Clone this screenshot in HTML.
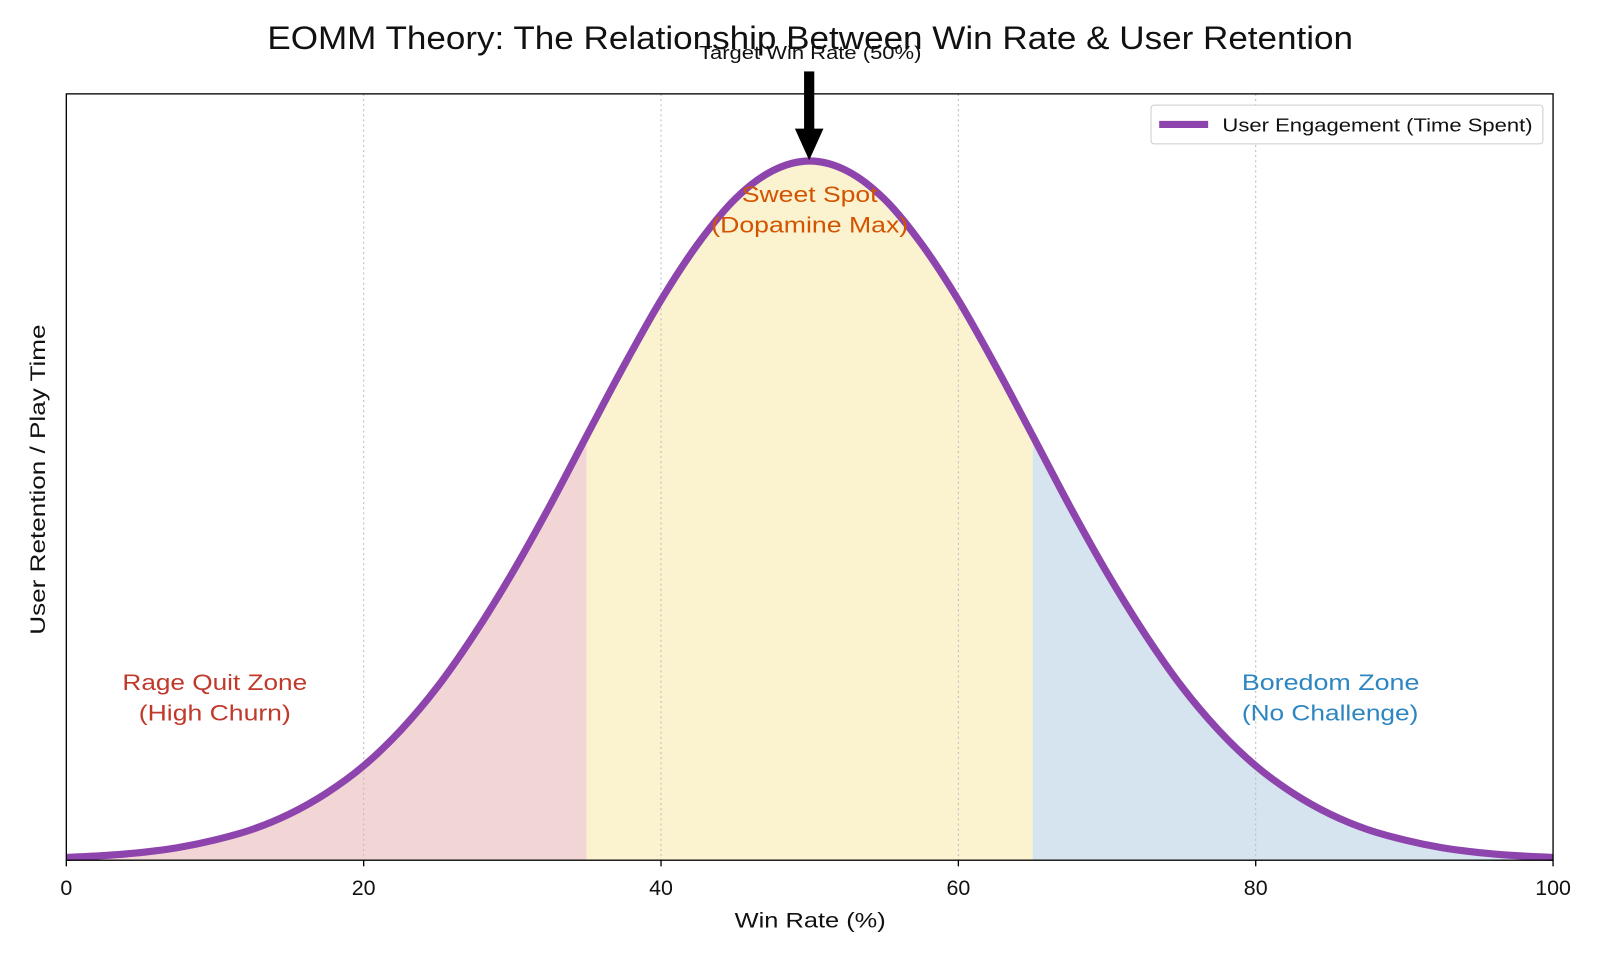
<!DOCTYPE html>
<html><head><meta charset="utf-8"><style>
html,body{margin:0;padding:0;background:#fff}
svg{display:block}
svg text{font-family:"Liberation Sans",sans-serif}
</style></head><body>
<svg id="chart" width="1600" height="960" viewBox="0 0 1568 940.8" preserveAspectRatio="none">
<rect width="1568" height="941" fill="#fff"/>
<text x="262" y="48" font-size="32" fill="#111" textLength="1064" lengthAdjust="spacingAndGlyphs">EOMM Theory: The Relationship Between Win Rate &amp; User Retention</text>
<g id="zones"></g>
<g id="grid"></g>
<g id="curve"></g>
<rect x="65" y="92" width="1457" height="751" fill="none" stroke="#000" stroke-width="1.3"/>
<g id="ticks"></g>
<text x="720" y="909" font-size="21" fill="#111" textLength="148" lengthAdjust="spacingAndGlyphs">Win Rate (%)</text>
<text transform="translate(44,622) rotate(-90)" font-size="21" fill="#111" textLength="304" lengthAdjust="spacingAndGlyphs">User Retention / Play Time</text>
<g>
<text x="685" y="58" font-size="18" fill="#111" textLength="218" lengthAdjust="spacingAndGlyphs">Target Win Rate (50%)</text>
<rect x="788" y="70" width="10" height="58" fill="#000"/>
<polygon points="779,126 807,126 793,157" fill="#000"/>
</g>
<text x="727" y="198" font-size="22" fill="#d35400" textLength="133" lengthAdjust="spacingAndGlyphs">Sweet Spot</text>
<text x="697" y="228" font-size="22" fill="#d35400" textLength="193" lengthAdjust="spacingAndGlyphs">(Dopamine Max)</text>
<text x="120" y="676" font-size="22" fill="#c0392b" textLength="181" lengthAdjust="spacingAndGlyphs">Rage Quit Zone</text>
<text x="136" y="706" font-size="22" fill="#c0392b" textLength="149" lengthAdjust="spacingAndGlyphs">(High Churn)</text>
<text x="1217" y="676" font-size="22" fill="#2e86c1" textLength="174" lengthAdjust="spacingAndGlyphs">Boredom Zone</text>
<text x="1217" y="706" font-size="22" fill="#2e86c1" textLength="173" lengthAdjust="spacingAndGlyphs">(No Challenge)</text>
<g>
<rect x="1128" y="103" width="384" height="38" rx="3" fill="#fff" stroke="#ccc"/>
<line x1="1136" y1="122" x2="1184" y2="122" stroke="#8e44ad" stroke-width="7"/>
<text x="1198" y="129" font-size="18" fill="#111" textLength="304" lengthAdjust="spacingAndGlyphs">User Engagement (Time Spent)</text>
</g>
</svg>
<script>
const winRates = [0,2.5,5,7.5,10,12.5,15,17.5,20,22.5,25,27.5,30,32.5,35,37.5,40,42.5,45,47.5,50,52.5,55,57.5,60,62.5,65,67.5,70,72.5,75,77.5,80,82.5,85,87.5,90,92.5,95,97.5,100];
const engagement = [0.004,0.0066,0.011,0.018,0.029,0.044,0.066,0.096,0.135,0.186,0.249,0.325,0.411,0.506,0.607,0.707,0.801,0.882,0.946,0.986,1,0.986,0.946,0.882,0.801,0.707,0.607,0.506,0.411,0.325,0.249,0.186,0.135,0.096,0.066,0.044,0.029,0.018,0.011,0.0066,0.004];
const xTicks = [0,20,40,60,80,100];
const gridTicks = [20,40,60,80];
const zoneBounds = [0,35,65,100];
const zoneColors = ["#f2d6d5","#fbf3d0","#d6e4f0"];
const zoneNames = ["rage-quit-zone","sweet-spot-zone","boredom-zone"];
const X0=65,X1=1522,Y0=843,Y1=92,YMAX=1.096;
const sx=v=>X0+(v/100)*(X1-X0);
const sy=v=>Y0-(v/YMAX)*(Y0-Y1);
const NS="http://www.w3.org/2000/svg";
function mk(t,a,p){const e=document.createElementNS(NS,t);for(const k in a)e.setAttribute(k,a[k]);p.appendChild(e);return e;}
function smoothPath(pts){let d=`M${pts[0][0]},${pts[0][1]}`;for(let i=0;i<pts.length-1;i++){const p0=pts[Math.max(0,i-1)],p1=pts[i],p2=pts[i+1],p3=pts[Math.min(pts.length-1,i+2)];const c1=[p1[0]+(p2[0]-p0[0])/6,p1[1]+(p2[1]-p0[1])/6],c2=[p2[0]-(p3[0]-p1[0])/6,p2[1]-(p3[1]-p1[1])/6];d+=` C${c1[0]},${c1[1]} ${c2[0]},${c2[1]} ${p2[0]},${p2[1]}`;}return d;}
const zones=document.getElementById('zones');
for(let z=0;z<3;z++){
 const pts=[];winRates.forEach((w,i)=>{if(w>=zoneBounds[z]&&w<=zoneBounds[z+1])pts.push([sx(w),sy(engagement[i])]);});
 const d=smoothPath(pts)+` L${pts[pts.length-1][0]},${Y0} L${pts[0][0]},${Y0} Z`;
 const e=mk('path',{d:d,fill:zoneColors[z]},zones);
 
 
}
const grid=document.getElementById('grid');
gridTicks.forEach(t=>{const e=mk('line',{x1:sx(t),x2:sx(t),y1:Y1,y2:Y0,stroke:'#bbb','stroke-width':1,'stroke-dasharray':'2,3'},grid);
 
 });
const curve=document.getElementById('curve');
const cp=mk('path',{d:smoothPath(winRates.map((w,i)=>[sx(w),sy(engagement[i])])),fill:'none',stroke:'#8e44ad','stroke-width':7,'stroke-linejoin':'round'},curve);


const ticks=document.getElementById('ticks');
xTicks.forEach(t=>{const l=mk('line',{x1:sx(t),x2:sx(t),y1:Y0,y2:Y0+6,stroke:'#000','stroke-width':1.3},ticks);
 
 
 const tx=mk('text',{x:sx(t),y:Y0+34,'text-anchor':'middle','font-size':21,fill:'#111'},ticks);tx.textContent=t;
 
 });
</script>
</body></html>
